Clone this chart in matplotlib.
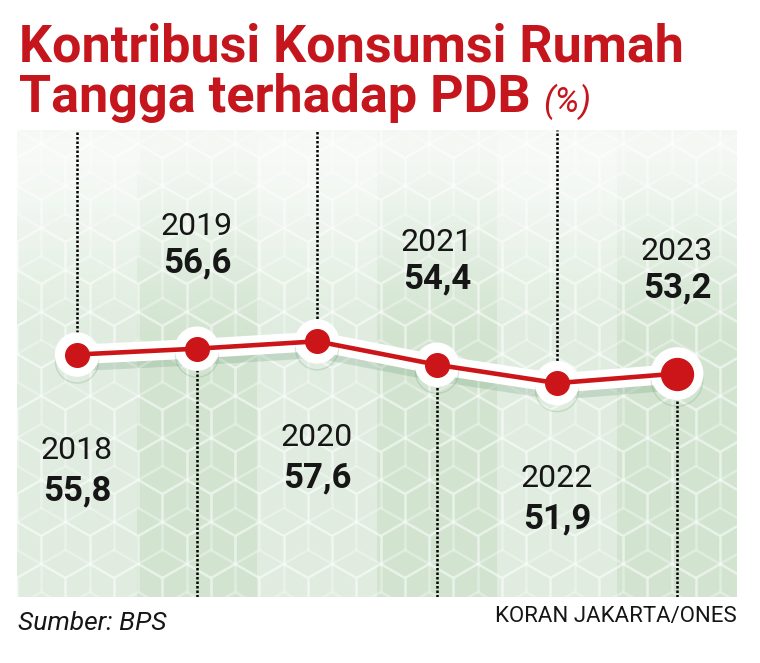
import numpy as np
import matplotlib
matplotlib.use('Agg')
import matplotlib.pyplot as plt
from matplotlib import font_manager, patheffects
from matplotlib.collections import LineCollection

# data
years = ['2018', '2019', '2020', '2021', '2022', '2023']
values = [55.8, 56.6, 57.6, 54.4, 51.9, 53.2]
value_labels = ['55,8', '56,6', '57,6', '54,4', '51,9', '53,2']

title_1 = 'Kontribusi Konsumsi Rumah'
title_2 = 'Tangga terhadap PDB'
unit = '(%)'
source = 'Sumber: BPS'
credit = 'KORAN JAKARTA/ONES'

RED = '#cc1518'
TITLE_RED = '#c4161c'
INK = '#161616'

names = {f.name for f in font_manager.fontManager.ttflist}
narrow = 'Liberation Sans Narrow' if 'Liberation Sans Narrow' in names else 'Roboto'

W, H = 760, 663
fig = plt.figure(figsize=(W / 100, H / 100), dpi=100)
fig.patch.set_facecolor('white')

# panel in pixels
px0, px1, py0, py1 = 17, 737, 130, 597
pos = [px0 / W, 1 - py1 / H, (px1 - px0) / W, (py1 - py0) / H]
pw, ph = px1 - px0, py1 - py0

# background: alternating column bands + vertical gradient
bg = fig.add_axes(pos)
bg.set_xlim(0, pw)
bg.set_ylim(ph, 0)
bg.axis('off')
yy = np.linspace(0, 1, ph)[:, None]
xx = np.arange(pw)[None, :]
band = ((xx // 120) % 2 == 1).astype(float)
light = np.array([0.878, 0.929, 0.875])
dark = np.array([0.825, 0.897, 0.818])
base = light[None, None, :] * (1 - band[..., None]) + dark[None, None, :] * band[..., None]
fade = np.clip(1 - yy / 0.4, 0, 1) ** 1.5 * 0.6
img = base * (1 - fade[..., None]) + fade[..., None]
# soft green shadow at panel top
top_shadow = np.exp(-yy * ph / 10)[..., None] * 0.10
img = img - top_shadow * np.array([0.6, 0.3, 0.55])
bg.imshow(np.clip(img, 0, 1), extent=(0, pw, ph, 0), aspect='auto', zorder=0)

# isometric cube pattern
R = 28.0
hw = np.sqrt(3) * R
segs = []
ang = np.deg2rad([30, 90, 150, 210, 270, 330])
for j in range(-1, int(ph / (1.5 * R)) + 2):
    for i in range(-1, int(pw / hw) + 2):
        cx = i * hw + (j % 2) * hw / 2
        cy = j * 1.5 * R
        vx = cx + R * np.cos(ang)
        vy = cy - R * np.sin(ang)
        for k in range(6):
            segs.append([(vx[k], vy[k]), (vx[(k + 1) % 6], vy[(k + 1) % 6])])
        for k in (1, 3, 5):
            segs.append([(cx, cy), (vx[k], vy[k])])
bg.add_collection(LineCollection(segs, colors='white', linewidths=1.8, alpha=0.32, zorder=1))
fadeimg = np.zeros((ph, 1, 4))
fadeimg[..., :3] = 1
fadeimg[..., 3] = np.clip(1 - yy / 0.45, 0, 1) * 0.6
bg.imshow(fadeimg, extent=(0, pw, ph, 0), aspect='auto', zorder=2)

# main chart axes
ax = fig.add_axes(pos)
ax.patch.set_alpha(0)
ax.axis('off')
ax.set_xlim(-0.5, len(years) - 0.5)
ax.set_ylim(22.72, 86.43)
x = np.arange(len(years))

# dotted leaders: alternate up / down
for i, v in enumerate(values):
    if i % 2 == 0:
        ax.plot([i, i], [v, 86.43], color='black', lw=1.8, ls=(0, (1, 0.8)), zorder=3,
                clip_on=False)
    else:
        ax.plot([i, i], [22.72, v], color='black', lw=1.8, ls=(0, (1, 0.8)), zorder=3)

shadow = [patheffects.SimpleLineShadow(offset=(0, -5), shadow_color='#5f8f6a', alpha=0.22),
          patheffects.Normal()]
ax.plot(x, values, color='white', lw=14, solid_capstyle='round', zorder=4,
        path_effects=shadow)
sizes = np.where(x == x[-1], 23, 17)
for xi, v, s in zip(x, values, sizes):
    ax.plot(xi, v, 'o', ms=s + 14, color='white', mec='white', zorder=4,
            path_effects=shadow)
ax.plot(x, values, color=RED, lw=3.3, zorder=5)
for xi, v, s in zip(x, values, sizes):
    ax.plot(xi, v, 'o', ms=s, color=RED, mec=RED, zorder=6)

# labels
for i, (yr, v, lab) in enumerate(zip(years, values, value_labels)):
    if i % 2 == 1:
        oy_year, oy_val = 88, 62
    else:
        oy_year, oy_val = -69, -98
    ax.annotate(yr, (i, v), xytext=(0, oy_year), textcoords='offset points',
                ha='center', va='center', fontsize=23, family='Roboto', color=INK, zorder=7)
    ax.annotate(lab, (i, v), xytext=(0, oy_val), textcoords='offset points',
                ha='center', va='center', fontsize=25, family='Roboto', fontweight='bold',
                color=INK, zorder=7)

# title and footer
fig.text(19 / W, 1 - 62 / H, title_1, fontsize=37.5, family=narrow, fontweight='bold',
         color=TITLE_RED, va='baseline')
fig.text(19 / W, 1 - 112 / H, title_2, fontsize=37.5, family=narrow, fontweight='bold',
         color=TITLE_RED, va='baseline')
fig.text(543 / W, 1 - 112 / H, unit, fontsize=25, family=narrow, style='italic',
         color=TITLE_RED, va='baseline')
fig.text(18 / W, 1 - 630 / H, source, fontsize=19, family=narrow, style='italic',
         color=INK, va='baseline')
fig.text(737 / W, 1 - 622 / H, credit, fontsize=16, family=narrow, color=INK,
         va='baseline', ha='right')

fig.savefig('out.png', dpi=100, facecolor='white')
